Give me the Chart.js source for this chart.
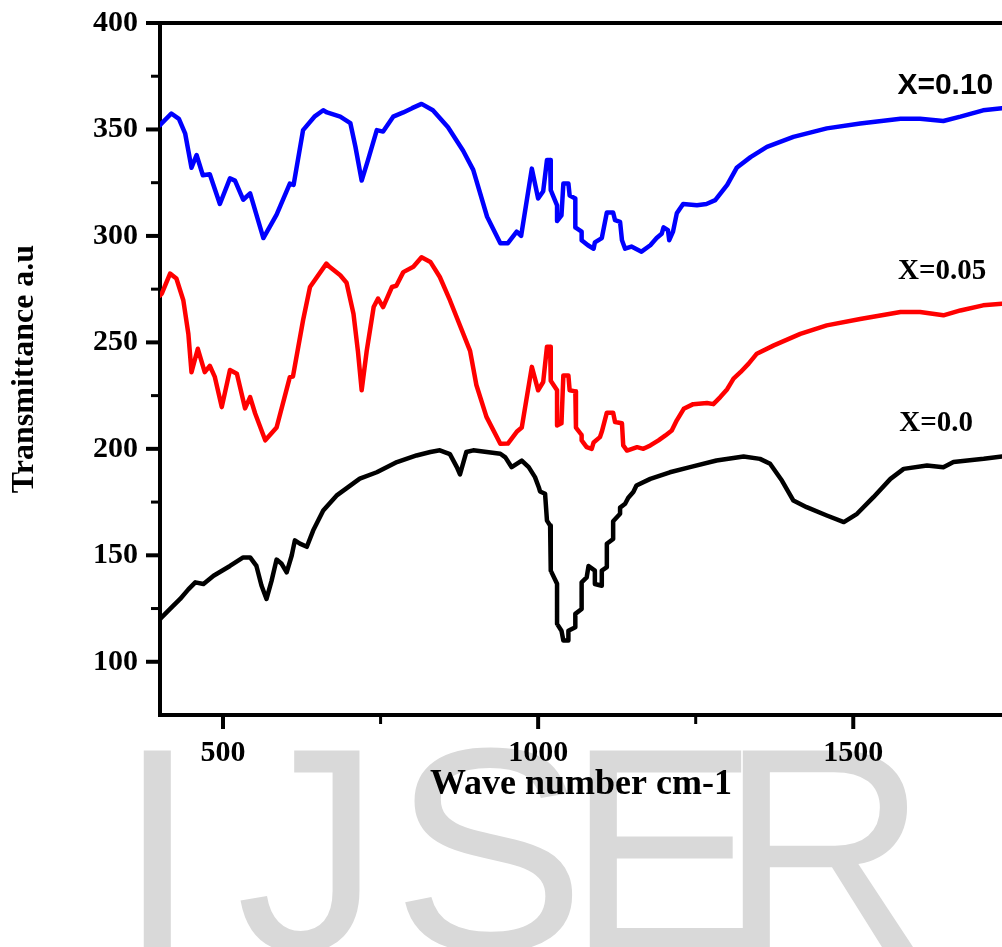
<!DOCTYPE html>
<html>
<head>
<meta charset="utf-8">
<script src="https://cdn.jsdelivr.net/npm/chart.js@4"></script>
<style>
  html, body { margin: 0; padding: 0; background: #fff; overflow: hidden; }
  #wrap { position: relative; width: 1002px; height: 947px; }
</style>
</head>
<body>
<div id="wrap"><canvas id="ftir"></canvas></div>
<script>
// FTIR spectra: wavenumber (cm-1) and transmittance (a.u)
const wn010 = [400, 403, 418, 430, 440, 450, 458, 468, 479, 495, 511, 519, 532, 543, 564, 585, 606, 612, 627, 645, 659, 665, 686, 702, 710, 720, 730, 744, 754, 770, 786, 800, 815, 833, 857, 881, 897, 919, 940, 952, 966, 973, 990, 1000, 1008, 1014, 1019, 1020, 1030, 1030, 1037, 1040, 1048, 1050, 1059, 1059, 1069, 1069, 1079, 1088, 1090, 1101, 1103, 1109, 1119, 1122, 1130, 1133, 1138, 1148, 1164, 1178, 1188, 1196, 1199, 1206, 1208, 1214, 1220, 1230, 1252, 1267, 1281, 1300, 1315, 1337, 1363, 1405, 1458, 1511, 1575, 1606, 1643, 1670, 1706, 1736];
const tr010 = [352, 353, 357.5, 355, 348, 332, 338, 328.5, 329, 315, 327, 326, 317, 320, 299, 310, 324.6, 324, 349.7, 356, 359, 358, 356, 353, 342, 326, 335.6, 349.7, 349, 356, 358, 360, 362, 359, 351, 340, 331, 309, 296.6, 296.6, 302, 300, 331.6, 317.6, 321, 335.6, 335.6, 321.5, 314.4, 307, 309.7, 324.6, 324.6, 319, 317.6, 304, 302, 298, 295.6, 294, 297, 299, 302, 311, 311, 307.4, 306.6, 298, 294, 295, 292.6, 295.6, 299, 301, 304, 302.7, 298, 302, 310.6, 315, 314.4, 315, 316.8, 324, 332, 337, 341.8, 346.5, 350.5, 352.8, 355, 355, 354, 356, 359, 360];

const wn005 = [400, 403, 416, 426, 437, 445, 450, 460, 471, 479, 487, 498, 511, 522, 535, 543, 551, 567, 585, 606, 611, 627, 638, 664, 669, 686, 696, 707, 714, 720, 728, 739, 746, 754, 768, 775, 786, 802, 815, 829, 844, 860, 892, 902, 918, 940, 952, 966, 974, 990, 1000, 1008, 1014, 1019, 1020, 1030, 1030, 1037, 1040, 1048, 1050, 1059, 1060, 1069, 1069, 1077, 1085, 1088, 1098, 1101, 1109, 1119, 1122, 1133, 1135, 1141, 1157, 1167, 1178, 1191, 1202, 1212, 1220, 1231, 1246, 1268, 1278, 1289, 1300, 1310, 1321, 1334, 1347, 1374, 1416, 1458, 1511, 1575, 1606, 1643, 1670, 1706, 1736];
const tr005 = [272, 273, 282.3, 280, 269.8, 254, 236, 247, 236, 239, 233.8, 219.6, 237, 235.3, 219, 224.3, 216.6, 204, 210, 233.7, 234, 260.4, 276, 287, 285.5, 281.5, 278, 263.5, 246, 227.5, 246, 266.6, 270.6, 266.6, 276, 276.6, 283, 285.5, 290, 287.8, 280.7, 269.8, 246, 230, 215, 202.4, 202.5, 208, 210, 238.5, 227.5, 231.4, 248, 248, 232, 227.5, 211, 212, 234.5, 234.5, 227.5, 227, 210, 206.5, 204, 200.8, 200, 203, 205.5, 208, 217, 217, 212.6, 212, 201.6, 199.2, 200.8, 200, 201.6, 204, 206.3, 208.6, 213.4, 218.8, 221, 221.5, 221, 224.3, 228, 233, 236, 240, 244.7, 248.6, 254, 258, 261, 264.3, 264.3, 262.7, 265, 267.4, 268.2];

const wn000 = [400, 403, 416, 432, 445, 456, 469, 485, 511, 532, 543, 553, 561, 569, 577, 585, 593, 601, 609, 614, 622, 633, 643, 659, 680, 717, 744, 776, 807, 829, 844, 860, 871, 876, 886, 897, 940, 948, 958, 974, 985, 995, 1001, 1003, 1011, 1014, 1019, 1020, 1030, 1030, 1037, 1040, 1048, 1048, 1059, 1059, 1069, 1069, 1077, 1080, 1090, 1090, 1101, 1101, 1109, 1109, 1119, 1119, 1130, 1130, 1138, 1143, 1151, 1156, 1178, 1209, 1241, 1283, 1326, 1352, 1368, 1387, 1405, 1426, 1458, 1485, 1506, 1532, 1559, 1580, 1617, 1643, 1659, 1707, 1736];
const tr000 = [120, 121, 124.8, 129.5, 134, 137.3, 136.5, 140.4, 145, 149, 149, 145, 135.8, 129.5, 138, 148, 146, 142, 149.9, 157, 155.5, 154, 161.6, 171, 178, 186, 189, 193.8, 196.9, 198.5, 199.3, 197.5, 191.4, 188, 198.5, 199.3, 197.7, 196, 191.4, 194.5, 191.4, 186.7, 182, 180, 178.9, 166.3, 164, 142.8, 136.6, 117.8, 114.6, 110, 110, 114.6, 116.2, 122.5, 124.8, 137.3, 139.6, 145, 142.8, 136.5, 135.7, 142.8, 144.4, 155.4, 157.7, 166, 169.5, 172.4, 174.2, 177, 179.7, 182.8, 185.9, 189, 191.4, 194.5, 196.4, 195.3, 193, 185, 175.7, 172.6, 168.7, 165.6, 169.5, 177.3, 185.9, 190.6, 192.2, 191.4, 193.8, 195.3, 196.4];

const seriesNames = ["X=0.10", "X=0.05", "X=0.0"];
const seriesColors = ["#0000FF", "#FF0000", "#000000"];
// where each curve name sits, in data units
const nameAtWn = [1570, 1571, 1573];
const nameAtTr = [370.4, 283.4, 212];

// axis ticks
const xMajorTicks = [500, 1000, 1500];
const xMinorTicks = [750, 1250];
const yMajorTicks = [100, 150, 200, 250, 300, 350, 400];
const yMinorTicks = [125, 175, 225, 275, 325, 375];

const serif = "'Liberation Serif', 'Times New Roman', serif";
const sans = "'Liberation Sans', Arial, sans-serif";

function toPoints(xs, ys) {
  return xs.map((x, i) => ({ x, y: ys[i] }));
}
const setTicks = vals => s => { s.ticks = vals.map(v => ({ value: v })); };

// big grey "IJSER" stamp behind the plot
const watermark = {
  id: "watermark",
  beforeDraw(chart) {
    const ctx = chart.ctx;
    ctx.save();
    ctx.fillStyle = "#fff";
    ctx.fillRect(0, 0, chart.width, chart.height);
    ctx.fillStyle = "#d9d9d9";
    ctx.font = "290px " + sans;
    ctx.textBaseline = "alphabetic";
    ctx.textAlign = "left";
    const letters = ["I", "J", "S", "E", "R"];
    const lx = [117, 236, 392, 566, 719];
    letters.forEach((l, i) => ctx.fillText(l, lx[i], 950));
    ctx.restore();
  },
};

// outward tick marks (long at labelled values, short in between)
const tickMarks = {
  id: "tickMarks",
  afterDraw(chart) {
    const { ctx, scales: { x, y } } = chart;
    ctx.save();
    ctx.strokeStyle = "#000";
    ctx.lineCap = "butt";
    const mark = (vals, len, w, horiz) => {
      ctx.lineWidth = w;
      vals.forEach(v => {
        ctx.beginPath();
        if (horiz) {
          const px = x.getPixelForValue(v);
          ctx.moveTo(px, x.top); ctx.lineTo(px, x.top + len);
        } else {
          const py = y.getPixelForValue(v);
          ctx.moveTo(y.right, py); ctx.lineTo(y.right - len, py);
        }
        ctx.stroke();
      });
    };
    mark(xMajorTicks, 14, 4, true);
    mark(xMinorTicks, 9, 3, true);
    mark(yMajorTicks, 14, 4, false);
    mark(yMinorTicks, 9, 3, false);
    ctx.restore();
  },
};

const curveNames = {
  id: "curveNames",
  afterDatasetsDraw(chart) {
    const { ctx, scales } = chart;
    ctx.save();
    ctx.fillStyle = "#000";
    ctx.textAlign = "left";
    ctx.textBaseline = "middle";
    seriesNames.forEach((name, i) => {
      ctx.font = i === 0 ? "bold 30px " + sans : "bold 29px " + serif;
      ctx.fillText(name, scales.x.getPixelForValue(nameAtWn[i]), scales.y.getPixelForValue(nameAtTr[i]));
    });
    ctx.restore();
  },
};

const tickFont = { family: serif, size: 30, weight: "bold" };
const plain = v => String(v);

new Chart(document.getElementById("ftir"), {
  type: "line",
  data: {
    datasets: [
      { label: seriesNames[0], data: toPoints(wn010, tr010), borderColor: seriesColors[0] },
      { label: seriesNames[1], data: toPoints(wn005, tr005), borderColor: seriesColors[1] },
      { label: seriesNames[2], data: toPoints(wn000, tr000), borderColor: seriesColors[2] },
    ],
  },
  options: {
    responsive: true,
    maintainAspectRatio: false,
    animation: false,
    events: [],
    layout: { padding: 0 },
    elements: {
      point: { radius: 0 },
      line: { borderWidth: 4.5, tension: 0, borderJoinStyle: "round", borderCapStyle: "round" },
    },
    plugins: { legend: { display: false }, tooltip: { enabled: false } },
    scales: {
      x: {
        type: "linear", position: "bottom", min: 400, max: 1736,
        afterFit(s) { s.height = 232; },
        afterBuildTicks: setTicks(xMajorTicks),
        ticks: { color: "#000", font: tickFont, padding: 0, maxRotation: 0, autoSkip: false, callback: plain },
        grid: { drawOnChartArea: false, tickLength: 20, tickColor: "rgba(0,0,0,0)" },
        border: { color: "#000", width: 4 },
        title: { display: true, text: "Wave number cm-1", color: "#000",
                 font: { family: serif, size: 36, weight: "bold" }, padding: { top: 0, bottom: 141 } },
      },
      xTop: {
        type: "linear", position: "top", min: 400, max: 1736,
        afterFit(s) { s.height = 23; },
        ticks: { display: false },
        grid: { drawOnChartArea: false, drawTicks: false },
        border: { color: "#000", width: 4 },
      },
      y: {
        type: "linear", position: "left", min: 75, max: 400,
        afterFit(s) { s.width = 160; },
        afterBuildTicks: setTicks(yMajorTicks),
        ticks: { color: "#000", font: tickFont, padding: 0, callback: plain },
        grid: { drawOnChartArea: false, tickLength: 22, tickColor: "rgba(0,0,0,0)" },
        border: { color: "#000", width: 4 },
        title: { display: true, text: "Transmittance a.u", color: "#000",
                 font: { family: serif, size: 32, weight: "bold" }, padding: { top: 6, bottom: 0 } },
      },
    },
  },
  plugins: [watermark, tickMarks, curveNames],
});
</script>
</body>
</html>
